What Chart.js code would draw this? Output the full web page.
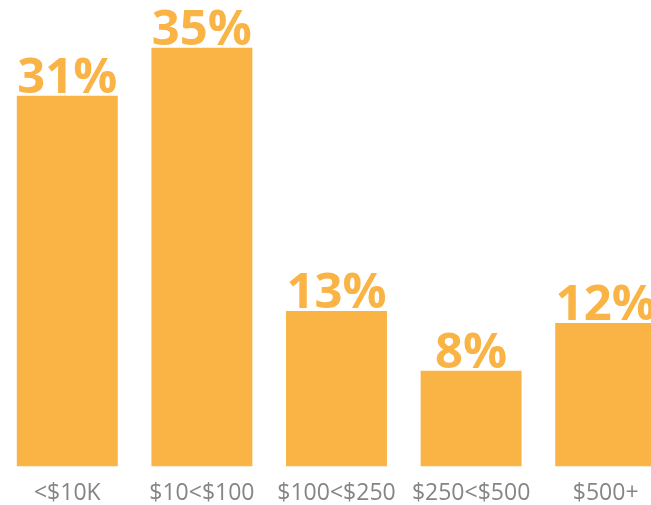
<!DOCTYPE html>
<html>
<head>
<meta charset="utf-8">
<script src="https://cdn.jsdelivr.net/npm/chart.js@4/dist/chart.umd.min.js"></script>
<style>
  html, body { margin: 0; padding: 0; background: #fff; overflow: hidden; }
  #wrap { width: 651px; height: 505px; overflow: hidden; position: relative; }
  #box { width: 673px; height: 520px; position: absolute; left: 0; top: 0; }
</style>
</head>
<body>
<div id="wrap"><div id="box"><canvas id="chart"></canvas></div></div>
<script>
const categories = ["<$10K", "$10<$100", "$100<$250", "$250<$500", "$500+"];
const shares = [31, 35, 13, 8, 12];

const barColor = "#F9B445";

// draws "31%" etc above each bar
const valueLabels = {
  id: "valueLabels",
  afterDatasetsDraw(chart) {
    const ctx = chart.ctx;
    const meta = chart.getDatasetMeta(0);
    ctx.save();
    ctx.fillStyle = barColor;
    ctx.font = "bold 49px 'Open Sans'";
    ctx.textAlign = "center";
    ctx.textBaseline = "alphabetic";
    meta.data.forEach((bar, i) => {
      ctx.fillText(shares[i] + "%", bar.x, bar.y - 3);
    });
    ctx.restore();
  }
};

new Chart(document.getElementById("chart").getContext("2d"), {
  type: "bar",
  data: {
    labels: categories,
    datasets: [{
      data: shares,
      backgroundColor: barColor,
      borderWidth: 0,
      categoryPercentage: 1,
      barPercentage: 0.75
    }]
  },
  options: {
    responsive: true,
    maintainAspectRatio: false,
    animation: false,
    layout: { padding: 0 },
    plugins: {
      legend: { display: false },
      tooltip: { enabled: false }
    },
    scales: {
      x: {
        grid: { display: false, drawTicks: false },
        border: { display: false },
        ticks: {
          color: "#858585",
          font: { family: "'Open Sans'", size: 23 },
          padding: 13,
          maxRotation: 0,
          autoSkip: false
        }
      },
      y: {
        display: false,
        min: 0,
        max: 39
      }
    }
  },
  plugins: [valueLabels]
});
</script>
</body>
</html>
